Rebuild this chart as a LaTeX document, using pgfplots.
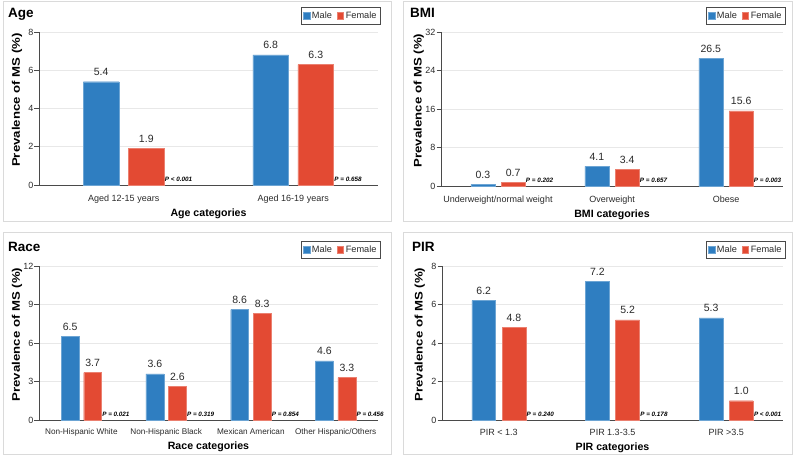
\documentclass[border=0pt]{standalone}
\usepackage{fontspec}
\setmainfont{Liberation Sans}
\usepackage{pgfplots}
\pgfplotsset{compat=1.18}
\usepackage{pgfplotstable}

\definecolor{male}{HTML}{2F7EC1}
\definecolor{female}{HTML}{E34A33}
\definecolor{gridc}{HTML}{E8E8E8}
\definecolor{framec}{HTML}{DADADA}
\definecolor{axisc}{HTML}{4A4A4A}
\definecolor{textc}{HTML}{2A2A2A}

% Prevalence of MS (%) by sex
\pgfplotstableread{
x male female
0 5.4 1.9
1 6.8 6.3
}\agedata
\pgfplotstableread{
x male female
0 0.3 0.7
1 4.1 3.4
2 26.5 15.6
}\bmidata
\pgfplotstableread{
x male female
0 6.5 3.7
1 3.6 2.6
2 8.6 8.3
3 4.6 3.3
}\racedata
\pgfplotstableread{
x male female
0 6.2 4.8
1 7.2 5.2
2 5.3 1.0
}\pirdata

\newcommand\titlefont{\bfseries\fontsize{13.5}{15}\selectfont}
\newcommand\labfont{\bfseries\fontsize{10.6}{12}\selectfont}
\newcommand\ylabfont{\bfseries\fontsize{11}{12}\selectfont}
\newcommand\tickfont{\fontsize{9}{11}\selectfont}
\newcommand\legfont{\fontsize{9.2}{11}\selectfont}
\newcommand\valfont{\fontsize{10.5}{12}\selectfont}
\newcommand\pfont{\bfseries\itshape\fontsize{6.3}{7}\selectfont}

\pgfplotsset{
  panel/.style={
    scale only axis, anchor=south west, clip=false,
    enlargelimits=false, ymin=0,
    axis x line*=bottom, axis y line*=left,
    axis line style={axisc, line width=0.8pt, -},
    ymajorgrids, grid style={gridc, line width=0.8pt},
    x tick style={draw=none},
    y tick style={axisc, line width=0.8pt},
    major tick length=4.5pt, tick align=outside,
    tick label style={font=\tickfont, text=textc},
    xticklabel style={yshift=-1.5pt},
    yticklabel style={xshift=2.5pt},
    /pgf/number format/assume math mode=true,
    xlabel style={font=\labfont, text=black, at={(axis description cs:0.5,0)}, anchor=center, yshift=-27pt},
    ylabel style={font=\ylabfont, text=black, at={(axis description cs:-0.065,0.555)}, anchor=center},
    ylabel={\scalebox{1.2}[1]{Prevalence of MS (\%)}},
    legend style={at={(axis description cs:1,1)}, anchor=north east, xshift=3pt, yshift=25pt,
      legend columns=2, draw=axisc, line width=1pt, font=\legfont, text=textc,
      inner xsep=2pt, inner ysep=2.2pt,
      /tikz/every even column/.append style={column sep=3pt}},
    legend image code/.code={\fill[##1] (0pt,-3pt) rectangle (6.5pt,3.5pt);},
  },
  % bars are drawn at the category position moved by -0.133 / +0.133
  malebar/.style={ybar, bar width=0.21, bar shift=0, fill=male, draw=male!70!white, line width=0.4pt, vals},
  femalebar/.style={ybar, bar width=0.21, bar shift=0, fill=female, draw=female!70!white, line width=0.4pt, vals},
  vals/.style={nodes near coords={\pgfmathprintnumber[fixed,fixed zerofill,precision=1]{\pgfplotspointmeta}},
    nodes near coords style={font=\valfont, text=textc, inner sep=1pt, yshift=5pt}},
}
\tikzset{pval/.style={font=\pfont, anchor=base west, inner sep=0.6pt, yshift=3pt, text=black}}

\begin{document}
\begin{tikzpicture}[x=1pt,y=1pt]
\path (0,0) rectangle (794,456);
% panel frames
\draw[framec, line width=0.9pt] (3,235) rectangle (391,455);
\draw[framec, line width=0.9pt] (403,235) rectangle (792,455);
\draw[framec, line width=0.9pt] (3,2) rectangle (391,224);
\draw[framec, line width=0.9pt] (403,2) rectangle (792,224);
% panel titles
\node[font=\titlefont, anchor=base west, inner sep=0] at (8,438) {Age};
\node[font=\titlefont, anchor=base west, inner sep=0] at (410,438.5) {BMI};
\node[font=\titlefont, anchor=base west, inner sep=0] at (8,204) {Race};
\node[font=\titlefont, anchor=base west, inner sep=0] at (412,204) {PIR};

% Age
\begin{axis}[panel, at={(39pt,271pt)}, width=339pt, height=153pt,
  xmin=-0.5, xmax=1.5, ymax=8, ytick={0,2,4,6,8},
  xtick={0,1}, xticklabels={Aged 12-15 years, Aged 16-19 years},
  xlabel={Age categories}, xlabel style={yshift=-2pt}]
\addplot[malebar] table[x expr=\thisrow{x}-0.133,y=male]{\agedata};
\addlegendentry{Male}
\addplot[femalebar] table[x expr=\thisrow{x}+0.133,y=female]{\agedata};
\addlegendentry{Female}
\node[pval] at (axis cs:0.238,0) {P < 0.001};
\node[pval] at (axis cs:1.238,0) {P = 0.658};
\end{axis}

% BMI
\begin{axis}[panel, at={(441pt,270pt)}, width=342pt, height=154pt,
  xmin=-0.5, xmax=2.5, ymax=32, ytick={0,8,16,24,32},
  xtick={0,1,2}, xticklabels={Underweight/normal weight, Overweight, Obese},
  xlabel={BMI categories}, xlabel style={yshift=-2pt}]
\addplot[malebar] table[x expr=\thisrow{x}-0.133,y=male]{\bmidata};
\addlegendentry{Male}
\addplot[femalebar] table[x expr=\thisrow{x}+0.133,y=female]{\bmidata};
\addlegendentry{Female}
\node[pval] at (axis cs:0.238,0) {P = 0.202};
\node[pval] at (axis cs:1.238,0) {P = 0.657};
\node[pval] at (axis cs:2.238,0) {P = 0.003};
\end{axis}

% Race
\begin{axis}[panel, at={(39pt,36pt)}, width=339pt, height=154pt,
  xmin=-0.5, xmax=3.5, ymax=12, ytick={0,3,6,9,12},
  xtick={0,1,2,3}, xticklabels={Non-Hispanic White, Non-Hispanic Black, Mexican American, Other Hispanic/Others},
  xticklabel style={font=\fontsize{8.2}{10}\selectfont, yshift=0.5pt},
  xlabel={Race categories}]
\addplot[malebar] table[x expr=\thisrow{x}-0.133,y=male]{\racedata};
\addlegendentry{Male}
\addplot[femalebar] table[x expr=\thisrow{x}+0.133,y=female]{\racedata};
\addlegendentry{Female}
\node[pval] at (axis cs:0.238,0) {P = 0.021};
\node[pval] at (axis cs:1.238,0) {P = 0.319};
\node[pval] at (axis cs:2.238,0) {P = 0.854};
\node[pval] at (axis cs:3.238,0) {P = 0.456};
\end{axis}

% PIR
\begin{axis}[panel, at={(442pt,36pt)}, width=341pt, height=154pt,
  xmin=-0.5, xmax=2.5, ymax=8, ytick={0,2,4,6,8},
  xtick={0,1,2}, xticklabels={PIR < 1.3, PIR 1.3-3.5, PIR >3.5},
  xlabel={PIR categories}, xlabel style={yshift=-1pt}]
\addplot[malebar] table[x expr=\thisrow{x}-0.133,y=male]{\pirdata};
\addlegendentry{Male}
\addplot[femalebar] table[x expr=\thisrow{x}+0.133,y=female]{\pirdata};
\addlegendentry{Female}
\node[pval] at (axis cs:0.238,0) {P = 0.240};
\node[pval] at (axis cs:1.238,0) {P = 0.178};
\node[pval] at (axis cs:2.238,0) {P < 0.001};
\end{axis}
\end{tikzpicture}
\end{document}
